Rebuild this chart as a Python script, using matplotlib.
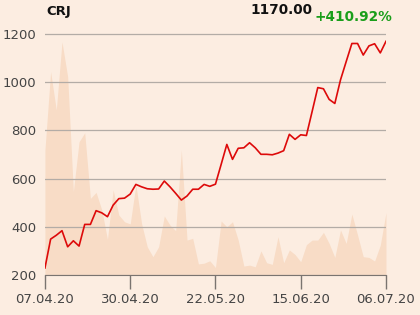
import numpy as np
import pandas as pd
import matplotlib.pyplot as plt

# Kursdaten CRJ, 07.04.20 - 06.07.20 (Handelstage)
ticker = "CRJ"
last_price = "1170.00"
change = "+410.92%"

price = [229, 349, 365, 384, 317, 342, 320, 410, 410, 467,
         458, 442, 490, 517, 519, 536, 576, 566, 558, 556,
         557, 590, 566, 539, 511, 528, 556, 556, 576, 568,
         577, 659, 742, 680, 726, 728, 749, 728, 701, 701,
         699, 706, 716, 784, 763, 782, 779, 878, 978, 973,
         929, 912, 1010, 1086, 1161, 1161, 1113, 1151, 1160, 1122,
         1170]

volume = [719, 1044, 885, 1168, 1023, 546, 753, 790, 518, 543,
          470, 348, 553, 449, 421, 412, 575, 414, 317, 276,
          317, 445, 407, 384, 719, 345, 352, 246, 249, 259,
          231, 424, 400, 421, 345, 237, 241, 234, 300, 251,
          244, 359, 251, 304, 285, 255, 326, 345, 345, 377,
          331, 273, 387, 331, 453, 366, 276, 273, 258, 324,
          459]

tick_labels = ["07.04.20", "30.04.20", "22.05.20", "15.06.20", "06.07.20"]

holidays = ["2020-04-10", "2020-04-13", "2020-05-01", "2020-06-01"]
dates = pd.bdate_range("2020-04-07", "2020-07-06", freq="C", holidays=holidays)
labels = list(dates.strftime("%d.%m.%y"))
x = np.arange(len(dates))

bg = "#fcede1"

fig = plt.figure(figsize=(4.2, 3.15), dpi=100, facecolor=bg)
ax = fig.add_axes([0.107, 0.127, 0.812, 0.803])
ax.set_facecolor(bg)

ax.fill_between(x, 200, volume, color="#f8dcc6", lw=0, zorder=1)
ax.plot(x, price, color="#dd0a0a", lw=1.2, zorder=3)

ax.set_xlim(0, len(x) - 1)
ax.set_ylim(200, 1250)
ax.set_yticks([200, 400, 600, 800, 1000, 1200])
ax.yaxis.grid(True, color="#b3aca6", lw=0.9, zorder=2)
ax.set_axisbelow(False)

ax.set_xticks([labels.index(t) for t in tick_labels])
ax.set_xticklabels(tick_labels)

for s in ["top", "left", "right"]:
    ax.spines[s].set_visible(False)
ax.spines["bottom"].set_color("#7a7470")
ax.tick_params(axis="y", length=0, pad=6, labelsize=9.5, labelcolor="#444444")
ax.tick_params(axis="x", length=10, width=1, color="#7a7470", pad=3,
               labelsize=9.5, labelcolor="#444444")

fig.text(46 / 420, 1 - 11 / 315, ticker, fontsize=9.5, fontweight="bold",
         va="center", ha="left", color="#111111")
fig.text(312 / 420, 1 - 10 / 315, last_price, fontsize=9.8, fontweight="bold",
         va="center", ha="right", color="#111111")
fig.text(392 / 420, 1 - 17 / 315, change, fontsize=9.8, fontweight="bold",
         va="center", ha="right", color="#1a9e1a")

plt.savefig("out.png", dpi=100, facecolor=bg)
